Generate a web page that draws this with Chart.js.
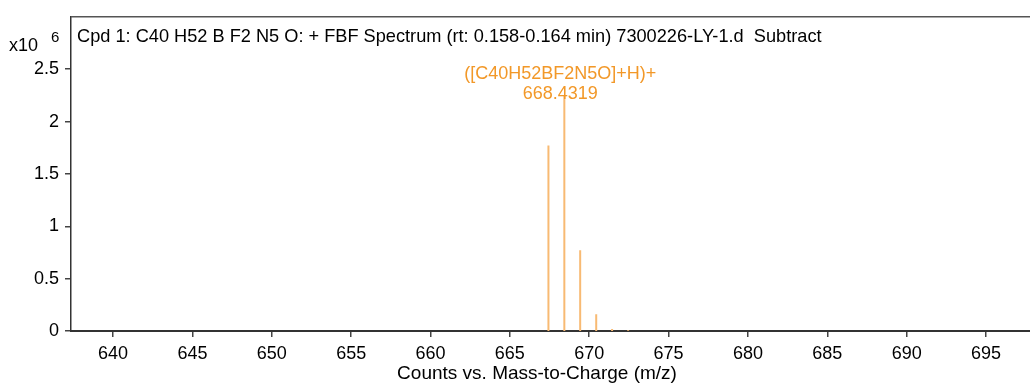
<!DOCTYPE html>
<html>
<head>
<meta charset="utf-8">
<script src="https://cdn.jsdelivr.net/npm/chart.js@4"></script>
<style>
  html, body { margin: 0; padding: 0; background: #fff; }
  #wrap { width: 1030px; height: 385px; }
</style>
</head>
<body>
<div id="wrap"><canvas id="chart"></canvas></div>
<script>
// Datos del espectro (m/z y cuentas x10^6)
var mzValues = [667.43, 668.4319, 669.43, 670.44, 671.44, 672.45];
var counts = [1.77, 2.25, 0.77, 0.16, 0.018, 0.008];
var xTicks = [640, 645, 650, 655, 660, 665, 670, 675, 680, 685, 690, 695];
var yTicks = [0, 0.5, 1, 1.5, 2, 2.5];
var titleText = 'Cpd 1: C40 H52 B F2 N5 O: + FBF Spectrum (rt: 0.158-0.164 min) 7300226-LY-1.d  Subtract';
var xTitle = 'Counts vs. Mass-to-Charge (m/z)';
var peakLabel = ['([C40H52BF2N5O]+H)+', '668.4319'];
var labelIndex = 1;

var FONT = '"Liberation Sans", Arial, sans-serif';
var ORANGE_LINE = 'rgb(248,186,115)';
var ORANGE_TEXT = 'rgb(242,152,40)';

// Cada pico se dibuja como una línea vertical (0 -> valor), separada por un hueco
var stems = [];
mzValues.forEach(function(mz, i) {
  stems.push({ x: mz, y: 0 });
  stems.push({ x: mz, y: counts[i] });
  stems.push({ x: mz, y: null });
});

// Plugin para textos extra: título interior, borde superior, x10^6, título del eje y etiqueta del pico
var extras = {
  id: 'extras',
  afterDraw: function(chart) {
    var c = chart.ctx, a = chart.chartArea;
    var xs = chart.scales.x, ys = chart.scales.y;
    c.save();
    // borde superior
    c.strokeStyle = '#555';
    c.lineWidth = 1.5;
    c.beginPath();
    c.moveTo(a.left, a.top);
    c.lineTo(a.right, a.top);
    c.stroke();
    // título dentro del área
    c.fillStyle = '#000';
    c.font = '18.2px ' + FONT;
    c.textBaseline = 'middle';
    c.textAlign = 'left';
    c.fillText(titleText, a.left + 6, 37);
    // x10^6
    c.font = '18px ' + FONT;
    c.fillText('x10', 9, 46);
    c.font = '15px ' + FONT;
    c.fillText('6', 51, 38);
    // título del eje x
    c.font = '19px ' + FONT;
    c.textAlign = 'center';
    c.fillText(xTitle, 537, 374);
    // etiqueta del pico principal
    var px = xs.getPixelForValue(mzValues[labelIndex]) - 4;
    var py = ys.getPixelForValue(counts[labelIndex]);
    c.fillStyle = ORANGE_TEXT;
    c.font = '18px ' + FONT;
    c.fillText(peakLabel[0], px, py - 21);
    c.fillText(peakLabel[1], px, py - 1);
    c.restore();
  }
};

var ctx = document.getElementById('chart').getContext('2d');
var chart = new Chart(ctx, {
  type: 'line',
  data: {
    datasets: [{
      data: stems,
      borderColor: ORANGE_LINE,
      borderWidth: 2,
      pointRadius: 0,
      spanGaps: false,
      tension: 0
    }]
  },
  options: {
    responsive: true,
    maintainAspectRatio: false,
    animation: false,
    layout: { padding: { top: 14, right: 0, left: 0, bottom: 0 } },
    plugins: { legend: { display: false }, tooltip: { enabled: false } },
    scales: {
      x: {
        type: 'linear',
        min: 637.35,
        max: 697.77,
        afterBuildTicks: function(s) { s.ticks = xTicks.map(function(v) { return { value: v }; }); },
        afterFit: function(s) { s.height = 54; },
        grid: { drawOnChartArea: false, drawTicks: true, tickLength: 6, color: '#444', lineWidth: 1.5 },
        border: { display: true, color: '#333', width: 2 },
        ticks: { color: '#000', font: { size: 18, family: FONT }, padding: 6, maxRotation: 0,
                 callback: function(v) { return String(v); } }
      },
      y: {
        min: 0,
        max: 3,
        afterBuildTicks: function(s) { s.ticks = yTicks.map(function(v) { return { value: v }; }); },
        afterFit: function(s) { s.width = 71; },
        grid: { drawOnChartArea: false, drawTicks: true, tickLength: 6, color: '#444', lineWidth: 1.5 },
        border: { display: true, color: '#333', width: 1.5 },
        ticks: { color: '#000', font: { size: 18, family: FONT }, padding: 6,
                 callback: function(v) { return String(v); } }
      }
    }
  },
  plugins: [extras]
});
</script>
</body>
</html>
